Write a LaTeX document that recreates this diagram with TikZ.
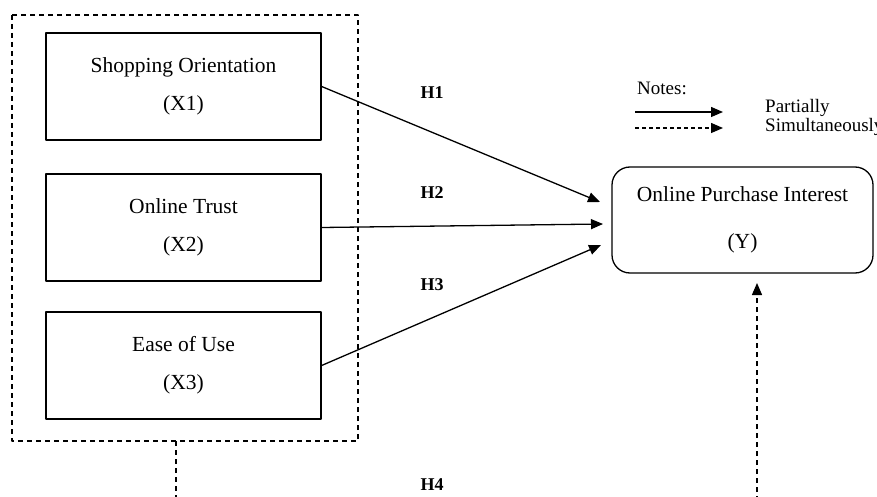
\documentclass[tikz,border=0pt]{standalone}
\usepackage{fontspec}
\setmainfont{Liberation Serif}
\usetikzlibrary{arrows.meta}
\tikzset{
  varbox/.style={draw, line width=1.3pt, minimum width=275pt, minimum height=107pt,
    align=center, font=\fontsize{21.5}{38}\selectfont},
  ybox/.style={varbox, minimum width=261pt, minimum height=106pt, rounded corners=18pt,
    font=\fontsize{21.5}{47}\selectfont},
  hlabel/.style={font=\fontsize{18}{20}\selectfont\bfseries},
  legtext/.style={anchor=base west, inner sep=0pt, font=\fontsize{19}{19}\selectfont},
  arr/.style={-{Triangle[length=12pt,width=10pt]}, line width=1.3pt},
  dashline/.style={line width=1.2pt, dash pattern=on 5pt off 4pt},
}
\begin{document}
\begin{tikzpicture}[x=1pt, y=-1pt, line join=round]
\useasboundingbox (0,0) rectangle (877,497);
\clip (0,0) rectangle (877,497);
\path
  (12,15) coordinate (G1)
  (358,441) coordinate (G2)
  (176,441) coordinate (S)
  (176,510) coordinate (SB)
  (757,510) coordinate (EB)
  (757,283) coordinate (E)
  (600,202) coordinate (T1)
  (603,224) coordinate (T2)
  (601,245) coordinate (T3)
  (635,112) coordinate (La)
  (723,112) coordinate (Lb)
  (635,128) coordinate (Lc)
  (723,128) coordinate (Ld)
  ;
% variables
\foreach \i/\name/\y in {1/Shopping Orientation/86.5, 2/Online Trust/227.5, 3/Ease of Use/365.5}
  {\node[varbox] (X\i) at (183.5,\y) {\name\\(X\i)};}
\node[ybox] (Y) at (742.5,220) {Online Purchase Interest\\(Y)};
\draw[dashline] (G1) rectangle (G2);
% hypotheses
\draw[arr] (X1.east) -- (T1);
\draw[arr] (X2.east) -- (T2);
\draw[arr] (X3.east) -- (T3);
\draw[dashline] (S) -- (SB);
\draw[dashline, arr] (EB) -- (E);
\foreach \h/\y in {1/93,2/193,3/285,4/485}
  {\node[hlabel] (H\h) at (432,\y) {H\h};}
% notes
\node[legtext] (notes) at (637,95) {Notes:};
\draw[arr] (La) -- (Lb);
\draw[arr, dash pattern=on 4pt off 3pt] (Lc) -- (Ld);
\node[legtext] (part) at (765,113) {Partially};
\node[legtext] (simul) at (765,132) {Simultaneously};
\end{tikzpicture}
\end{document}
